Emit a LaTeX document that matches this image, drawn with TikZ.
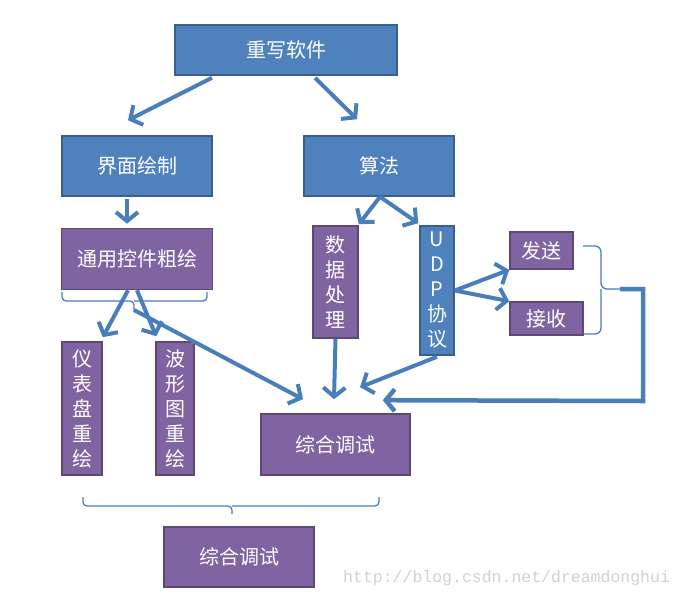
\documentclass[tikz,border=0pt]{standalone}
\usepackage{fontspec}
\newfontfamily\cjk{Noto Sans CJK SC}
\newfontfamily\wmfont{Liberation Mono}
\usetikzlibrary{arrows.meta}
\definecolor{bluefill}{HTML}{4F81BD}
\definecolor{blueedge}{HTML}{3A5F8B}
\definecolor{purfill}{HTML}{8064A2}
\definecolor{puredge}{HTML}{5C4776}
\definecolor{arrcol}{HTML}{4A7EBB}
\begin{document}
\begin{tikzpicture}[x=1pt,y=-1pt,
  box/.style={draw, line width=1.6pt, inner sep=0pt, align=center, text=white,
    font=\cjk\fontsize{20}{25}\selectfont},
  bluebox/.style={box, fill=bluefill, draw=blueedge},
  purbox/.style={box, fill=purfill, draw=puredge},
  arr/.style={draw=arrcol, line width=4pt, -{Straight Barb[length=9pt,width=22pt]}},
  brk/.style={draw=arrcol, line width=1.3pt, rounded corners=4pt}]
\useasboundingbox (0,0) rectangle (683,598);
% nodes
\node[bluebox, minimum width=222pt, minimum height=50pt] (top) at (286,50) {重写软件};
\node[bluebox, minimum width=150pt, minimum height=60pt] (jm) at (137,166) {界面绘制};
\node[bluebox, minimum width=150pt, minimum height=60pt] (sf) at (379,166) {算法};
\node[purbox, minimum width=151pt, minimum height=61pt] (ty) at (137,259) {通用控件粗绘};
\node[purbox, minimum width=45pt, minimum height=112pt] (sj) at (335.5,282) {数\\据\\处\\理};
\node[bluebox, minimum width=34pt, minimum height=129pt] (udp) at (437,290.5) {U\\D\\P\\协\\议};
\node[purbox, minimum width=63pt, minimum height=37pt] (fs) at (541.5,250.5) {发送};
\node[purbox, minimum width=73pt, minimum height=33pt] (js) at (546.5,318.5) {接收};
\node[purbox, minimum width=40pt, minimum height=133pt] (yb) at (82,408.5) {仪\\表\\盘\\重\\绘};
\node[purbox, minimum width=38pt, minimum height=133pt] (bx) at (175,408.5) {波\\形\\图\\重\\绘};
\node[purbox, minimum width=149pt, minimum height=61pt] (zh1) at (335.5,444.5) {综合调试};
\node[purbox, minimum width=150pt, minimum height=60pt] (zh2) at (239,557) {综合调试};
% brackets
\coordinate (bt) at (134,310);
\draw[brk] (62,292) |- (134,301) -- (bt);
\draw[brk] (207,292) |- (134,301);
\coordinate (bb) at (232,514);
\draw[brk] (83,497) |- (232,506) -- (bb);
\draw[brk] (379,497) |- (232,506);
\coordinate (rb) at (620,289);
\draw[brk, rounded corners=6pt] (583,246) -| (601,289) -- (rb);
\draw[brk, rounded corners=6pt] (583,334) -| (601,289);
% arrows
\draw[arr] ([xshift=-74pt,yshift=-2pt]top.south) -- ([xshift=-9pt,yshift=15pt]jm.north);
\draw[arr] ([xshift=29pt,yshift=-2pt]top.south) -- ([xshift=-22pt,yshift=16pt]sf.north);
\draw[arr] ([xshift=-10pt,yshift=-2pt]jm.south) -- ([xshift=-10pt,yshift=4pt]ty.north);
\draw[arr] ([xshift=1pt]sf.south) -- ([yshift=1pt]sj.north east);
\draw[arr] ([xshift=1pt]sf.south) -- ([xshift=-1pt,yshift=2pt]udp.north west);
\draw[arr] (udp.east) -- (fs.south west);
\draw[arr] (udp.east) -- (js.north west);
\draw[arr] (sj.south) -- ([xshift=-1.5pt,yshift=14pt]zh1.north);
\draw[arr] ([yshift=-1pt]udp.south) -- ([xshift=24.5pt,yshift=26pt]zh1.north);
\draw[arr] ([xshift=-9pt]ty.south) -- ([yshift=4pt]yb.north east);
\draw[arr] (ty.south) -- ([xshift=1pt,yshift=5pt]bx.north west);
\draw[arr] (bt) -- ([xshift=-32.5pt,yshift=14pt]zh1.north);
\draw[arr, line width=4.5pt] (rb) -- (643,289) -- (643,401) -- ([xshift=-28pt,yshift=13pt]zh1.north east);
% watermark
\node[anchor=west, inner sep=0pt, text=black!18, font=\wmfont\fontsize{16.5}{18}\selectfont] (wm) at (343,578) {http://blog.csdn.net/dreamdonghui};
\end{tikzpicture}
\end{document}
